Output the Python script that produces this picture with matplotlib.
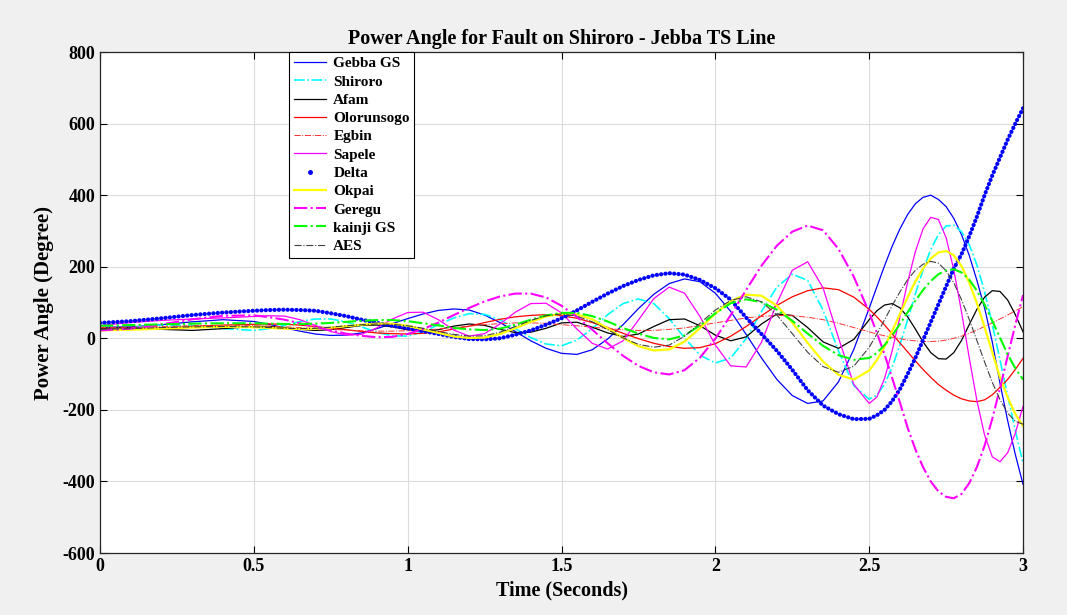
import matplotlib
matplotlib.use('Agg')
import matplotlib.pyplot as plt
from matplotlib.lines import Line2D
import numpy as np

plt.rcParams['font.family'] = ['Liberation Serif', 'DejaVu Serif']
plt.rcParams['font.weight'] = 'bold'
plt.rcParams['axes.unicode_minus'] = False

# time axis (s): coarse early, finer where the swings get fast
time = np.concatenate([
    np.linspace(0.0, 0.4, 5),
    np.linspace(0.5, 2.45, 40),
    np.linspace(2.5, 3.0, 21),
])

# power angles (degree)
gebba = [31, 32, 38, 46, 52,
         47, 39, 29, 20, 12, 8, 9, 15, 27, 41,
         55, 68, 78, 82, 79, 65, 44, 19, -7, -28,
         -42, -45, -32, -2, 38, 83, 123, 153, 166, 158,
         126, 75, 11, -55, -115, -160, -182, -175, -122, -31,
         84, 144, 203, 258, 306, 346, 376, 394, 400, 388, 368,
         335, 290, 232, 162, 85, -10, -125, -230, -325, -408]
shiroro = [25, 30, 37, 36, 27,
           22, 27, 36, 47, 54, 54, 46, 32, 17, 7,
           6, 18, 38, 57, 69, 67, 52, 27, 2, -16,
           -21, -5, 27, 66, 97, 110, 97, 55, 1, -47,
           -69, -55, -1, 75, 143, 179, 162, 79, -35, -132,
           -170, -159, -128, -80, -18, 52, 124, 191, 248, 290, 314,
           316, 298, 262, 205, 130, 40, -60, -160, -258, -349]
afam = [28, 30, 25, 22, 27,
        33, 33, 30, 25, 22, 24, 30, 36, 37, 32,
        24, 20, 24, 34, 40, 36, 25, 16, 17, 28,
        43, 45, 31, 15, 5, 12, 33, 52, 54, 35,
        9, -7, 4, 40, 68, 64, 30, -10, -28, -3,
        52, 77, 93, 97, 85, 60, 26, -10, -40, -57, -58,
        -40, -6, 38, 81, 115, 133, 131, 107, 66, 18]
olorunsogo = [25, 26, 29, 33, 37,
              39, 40, 39, 37, 33, 28, 24, 19, 15, 13,
              12, 14, 18, 26, 34, 44, 53, 60, 64, 66,
              63, 56, 44, 30, 14, -1, -14, -23, -28, -26,
              -15, 6, 33, 63, 92, 116, 133, 141, 136, 115,
              81, 60, 37, 12, -13, -38, -63, -87, -109, -129, -145,
              -159, -169, -175, -177, -172, -158, -137, -115, -87, -56]
egbin = [30, 31, 33, 35, 36,
         35, 34, 32, 30, 27, 25, 23, 21, 20, 20,
         21, 23, 26, 30, 34, 38, 41, 43, 43, 42,
         38, 35, 31, 27, 24, 22, 22, 25, 29, 36,
         43, 50, 57, 61, 64, 63, 59, 52, 42, 30,
         18, 12, 7, 3, -1, -5, -7, -9, -9, -8, -5,
         0, 6, 14, 23, 33, 43, 54, 65, 77, 88]
sapele = [36, 44, 50, 54, 57,
          61, 63, 62, 52, 36, 19, 9, 11, 29, 54,
          72, 73, 52, 23, 6, 13, 40, 73, 97, 98,
          71, 26, -14, -30, -7, 51, 111, 143, 126, 61,
          -19, -77, -80, -11, 98, 190, 214, 141, 2, -129,
          -182, -164, -112, -34, 60, 157, 242, 306, 338, 332, 281,
          191, 74, -54, -174, -270, -331, -345, -320, -265, -190]
delta = [43, 48, 56, 65, 72,
         77, 79, 80, 79, 77, 70, 62, 52, 43, 35,
         28, 20, 12, 4, -2, -3, 0, 10, 22, 38,
         56, 78, 102, 125, 146, 163, 176, 182, 178, 163,
         140, 108, 58, 12, -35, -88, -145, -188, -212, -226,
         -225, -215, -200, -175, -142, -100, -55, -5, 45, 95, 145,
         195, 235, 285, 340, 400, 455, 505, 555, 600, 643]
okpai = [22, 24, 27, 30, 32,
         31, 29, 27, 26, 27, 30, 34, 38, 41, 41,
         35, 25, 15, 5, 1, 2, 12, 28, 46, 61,
         69, 67, 53, 28, 1, -22, -34, -31, -9, 28,
         69, 104, 122, 119, 91, 44, -13, -65, -102, -115,
         -90, -61, -23, 21, 68, 115, 159, 195, 223, 240, 244,
         232, 202, 156, 98, 31, -39, -109, -165, -212, -245]
geregu = [22, 27, 39, 53, 63,
          64, 59, 52, 42, 32, 22, 13, 7, 3, 4,
          12, 26, 44, 65, 85, 103, 117, 125, 125, 114,
          91, 60, 24, -14, -49, -77, -95, -101, -89, -54,
          -1, 65, 135, 203, 259, 298, 315, 302, 250, 172,
          72, 15, -45, -112, -180, -250, -310, -360, -400, -428, -443,
          -447, -435, -405, -360, -300, -225, -140, -50, 38, 121]
kainji = [35, 37, 39, 41, 42,
          42, 41, 40, 40, 41, 43, 46, 49, 51, 51,
          48, 42, 36, 29, 25, 23, 27, 38, 52, 64,
          71, 71, 62, 47, 29, 13, 1, -3, 8, 36,
          70, 98, 109, 101, 80, 49, 13, -21, -47, -60,
          -55, -41, -19, 8, 40, 73, 105, 135, 160, 179, 190,
          193, 184, 164, 133, 94, 49, 2, -45, -84, -115]
aes = [25, 27, 30, 32, 33,
       32, 30, 28, 27, 28, 31, 35, 38, 40, 39,
       35, 28, 19, 11, 6, 7, 17, 33, 50, 63,
       68, 62, 46, 24, 1, -17, -25, -19, 6, 42,
       79, 106, 116, 102, 65, 13, -39, -79, -95, -78,
       -25, 12, 52, 92, 130, 164, 190, 207, 215, 210, 189,
       155, 108, 53, -6, -66, -123, -171, -209, -232, -240]

x_ticks = [0, 0.5, 1, 1.5, 2, 2.5, 3]
x_tick_labels = ['0', '0.5', '1', '1.5', '2', '2.5', '3']
y_ticks = [-600, -400, -200, 0, 200, 400, 600, 800]

fig = plt.figure(figsize=(10.67, 6.15), dpi=100, facecolor='#f0f0f0')
ax = fig.add_axes([0.0937, 0.1008, 0.8651, 0.8146])
ax.set_facecolor('white')

handles = []
h, = ax.plot(time, gebba, color='#0000ff', lw=0.9, label='Gebba GS')
handles.append(h)
h, = ax.plot(time, shiroro, color='#00ffff', lw=1.2, ls='-.', label='Shiroro')
handles.append(h)
h, = ax.plot(time, afam, color='black', lw=0.9, label='Afam')
handles.append(h)
h, = ax.plot(time, olorunsogo, color='#ff0000', lw=0.9, label='Olorunsogo')
handles.append(h)
h, = ax.plot(time, egbin, color='#ff3030', lw=0.7, ls='-.', label='Egbin')
handles.append(h)
h, = ax.plot(time, sapele, color='#ff00ff', lw=0.9, label='Sapele')
handles.append(h)
ax.plot(time, delta, color='#0000ff', lw=3.0, ls=(0, (0.05, 1.0)),
        dash_capstyle='round')
handles.append(Line2D([], [], color='#0000ff', marker='.', ls='none',
                      markersize=5, label='Delta'))
h, = ax.plot(time, okpai, color='#ffff00', lw=1.6, label='Okpai')
handles.append(h)
h, = ax.plot(time, geregu, color='#ff00ff', lw=1.5, ls='-.', label='Geregu')
handles.append(h)
h, = ax.plot(time, kainji, color='#00ff00', lw=1.5, ls='-.', label='kainji GS')
handles.append(h)
h, = ax.plot(time, aes, color='#404040', lw=0.8, ls='-.', label='AES')
handles.append(h)

ax.set_xlim(0, 3)
ax.set_ylim(-600, 800)
ax.set_xticks(x_ticks)
ax.set_xticklabels(x_tick_labels)
ax.set_yticks(y_ticks)
ax.tick_params(direction='in', top=True, right=True, length=5,
               labelsize=13, width=0.8)
for lab in ax.get_xticklabels() + ax.get_yticklabels():
    lab.set_fontweight('bold')
ax.grid(True, color='#dcdcdc', linewidth=0.8)
ax.set_axisbelow(True)
for sp in ax.spines.values():
    sp.set_color('#262626')
    sp.set_linewidth(0.9)

ax.set_title('Power Angle for Fault on Shiroro - Jebba TS Line',
             fontsize=14.5, fontweight='bold', pad=6)
ax.set_xlabel('Time (Seconds)', fontsize=14.5, fontweight='bold', labelpad=4)
ax.set_ylabel('Power Angle (Degree)', fontsize=15, fontweight='bold', labelpad=6)

leg = ax.legend(handles=handles, loc='upper left', bbox_to_anchor=(0.2048, 1.0),
                borderaxespad=0, fontsize=11, fancybox=False, framealpha=1,
                edgecolor='black', handlelength=2.1, handletextpad=0.5,
                labelspacing=0.3, borderpad=0.3)
leg.get_frame().set_linewidth(0.8)
for txt in leg.get_texts():
    txt.set_fontweight('bold')

fig.savefig('out.png', dpi=100, facecolor=fig.get_facecolor())
plt.close(fig)
